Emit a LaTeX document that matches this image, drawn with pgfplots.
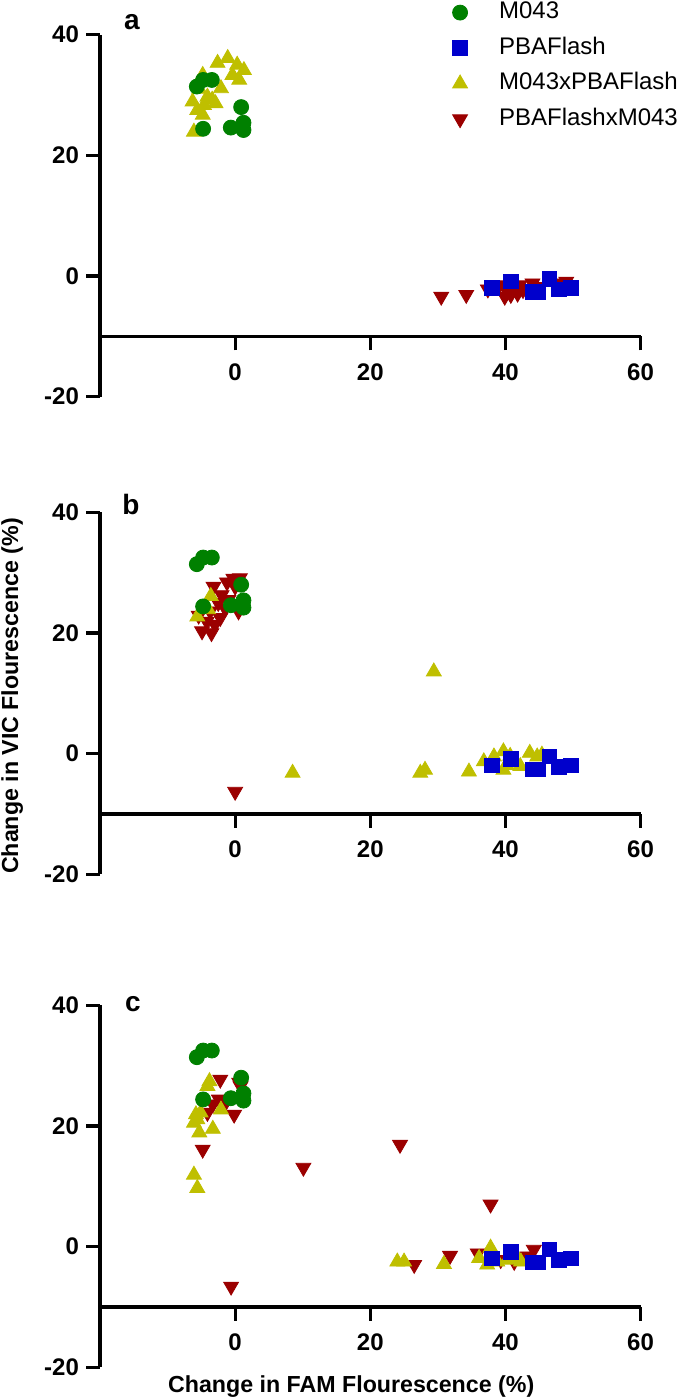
\documentclass[border=0pt]{standalone}
\usepackage{fontspec}
\setmainfont{Liberation Sans}
\usepackage{pgfplots}
\pgfplotsset{compat=1.18}
\definecolor{cgreen}{RGB}{0,128,0}
\definecolor{cblue}{RGB}{0,0,204}
\definecolor{cyellow}{RGB}{191,191,0}
\definecolor{cred}{RGB}{155,0,0}
\pgfplotsset{
  panel/.style={
    scale only axis, width=270.3pt, height=181pt,
    anchor=south west,
    xmin=-20, xmax=60, ymin=-20, ymax=40,
    axis x line=bottom, axis y line=left,
    axis x line shift=-30.17pt,
    axis line style={line width=1.6pt, -},
    xtick={0,20,40,60}, ytick={-20,0,20,40},
    tick align=outside, major tick length=7pt,
    tick style={line width=1.6pt, black},
    ticklabel style={font=\bfseries\fontsize{12}{14}\selectfont},
    xticklabel style={yshift=-3pt},
    /pgf/number format/assume math mode=true,
    only marks,
  },
  mgreen/.style={mark=*, mark size=3.75pt, color=cgreen},
  mblue/.style={mark=square*, mark size=3.6pt, color=cblue},
  myellow/.style={mark=triangle*, mark size=4.3pt, color=cyellow},
  mred/.style={mark=triangle*, mark size=4.3pt, color=cred, mark options={rotate=180}},
}
\pgfplotstableread{
x y
-5.67 31.4
-4.74 32.5
-3.45 32.5
0.89 28.0
-4.74 24.4
-0.64 24.6
1.23 25.4
1.23 24.2
}\greendata
\pgfplotstableread{
x y
38.0 -2.0
40.8 -0.9
44.0 -2.6
44.8 -2.6
46.5 -0.5
47.9 -2.2
49.7 -2.0
}\bluedata
\pgfplotstableread{
x y
-2.6 35.3
-1.1 36.1
0.3 35.0
1.3 34.1
-0.4 33.3
0.6 32.5
-4.8 33.3
-2.1 31.1
-3.4 29.2
-6.3 28.9
-5.6 27.5
-4.8 26.7
-6.1 23.9
-4.1 29.7
-2.9 28.6
-5.3 31.0
-4.6 28.3
}\yellowa
\pgfplotstableread{
x y
30.5 -3.4
34.2 -3.1
37.4 -2.2
39.9 -3.4
40.8 -3.1
41.8 -2.9
42.6 -2.3
39.1 -1.5
42.1 -1.5
44.0 -1.2
49.0 -0.9
48.5 -1.2
44.8 -1.8
40.1 -2.3
}\reda
\pgfplotstableread{
x y
-3.6 26.1
-5.6 22.7
-4.0 23.9
8.5 -3.2
29.4 13.6
27.4 -3.2
28.1 -2.7
34.6 -3.0
36.8 -1.3
38.3 -0.5
39.7 0.35
40.7 -0.4
38.5 -2.4
42.2 -2.1
43.6 0.1
44.7 -0.5
45.4 -0.2
40.2 -1.9
39.7 -2.7
}\yellowb
\pgfplotstableread{
x y
-0.25 29.0
-1.2 28.4
0.7 29.1
-3.2 27.7
-2.0 26.3
-1.0 25.5
-2.5 25.0
-3.7 23.6
-5.4 22.9
-4.2 21.9
-3.0 21.4
-4.9 20.3
-3.5 20.0
-2.2 22.5
-1.5 24.1
0.5 23.6
0.0 27.7
0.0 -6.3
}\redb
\pgfplotstableread{
x y
-3.8 27.4
-4.1 26.6
-5.8 21.9
-5.6 21.1
-6.1 20.5
-5.3 18.9
-3.3 19.5
-2.1 22.7
-6.1 11.9
-5.6 9.7
-5.1 22.2
24.0 -2.5
25.0 -2.5
30.9 -2.9
36.1 -1.9
37.8 -0.2
37.3 -3.0
38.8 -2.5
40.3 -2.2
41.8 -1.9
42.3 -2.5
}\yellowc
\pgfplotstableread{
x y
-2.2 27.7
0.6 27.2
0.8 26.6
-2.4 24.4
-3.3 23.6
-1.4 23.9
-0.15 21.9
-4.1 22.2
-4.8 16.1
-0.6 -6.6
10.1 13.1
24.4 16.9
37.8 7.0
26.5 -3.0
31.8 -1.5
35.9 -1.1
44.2 -0.5
43.3 -1.6
41.3 -2.5
39.3 -2.2
}\redc
\begin{document}
\begin{tikzpicture}
\useasboundingbox (0,0) rectangle (342.5pt,699.5pt);
% panel a
\begin{axis}[panel, at={(50pt,501.15pt)},
  reverse legend,
  legend style={draw=none, fill=none, at={(0.6365,1.0942)}, anchor=north west,
    inner sep=0pt, outer sep=0pt, row sep=5.75pt,
    font=\fontsize{12}{14}\selectfont,
    nodes={inner sep=0pt, text height=9pt, text depth=3pt}},
  legend cell align=left,
  legend image code/.code={\path[draw=none,fill=none] (0pt,0pt) (27.5pt,0pt); \draw[#1] plot[only marks] coordinates {(8pt,0pt)};},
]
\addplot[mred] table {\reda}; \addlegendentry{PBAFlashxM043}
\addplot[myellow] table {\yellowa}; \addlegendentry{M043xPBAFlash}
\addplot[mblue] table {\bluedata}; \addlegendentry{PBAFlash}
\addplot[mgreen] table {\greendata}; \addlegendentry{M043}
\end{axis}
% panel b
\begin{axis}[panel, at={(50pt,262.35pt)}]
\addplot[mred] table {\redb};
\addplot[myellow] table {\yellowb};
\addplot[mblue] table {\bluedata};
\addplot[mgreen] table {\greendata};
\end{axis}
% panel c
\begin{axis}[panel, at={(50pt,15.85pt)}]
\addplot[mred] table {\redc};
\addplot[myellow] table {\yellowc};
\addplot[mblue] table {\bluedata};
\addplot[mgreen] table {\greendata};
\end{axis}
\node[anchor=base, font=\bfseries\fontsize{14}{16}\selectfont] at (66pt,684.5pt) {a};
\node[anchor=base, font=\bfseries\fontsize{14}{16}\selectfont] at (65.5pt,442pt) {b};
\node[anchor=base, font=\bfseries\fontsize{14}{16}\selectfont] at (66.5pt,193.7pt) {c};
\node[anchor=base, rotate=90, font=\bfseries\fontsize{11.6}{14}\selectfont] at (9pt,351.5pt) {Change in VIC Flourescence (\%)};
\node[anchor=base, font=\bfseries\fontsize{11.6}{14}\selectfont] at (175.6pt,3pt) {Change in FAM Flourescence (\%)};
\end{tikzpicture}
\end{document}
